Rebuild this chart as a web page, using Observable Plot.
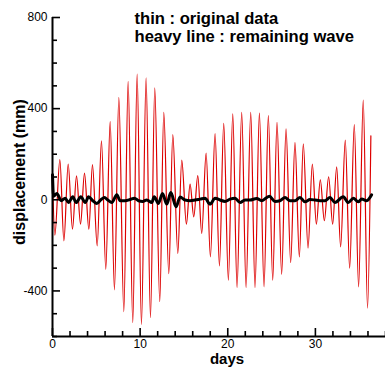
<!DOCTYPE html>
<html>
<head>
<meta charset="utf-8">
<script src="https://cdn.jsdelivr.net/npm/d3@7"></script>
<script src="https://cdn.jsdelivr.net/npm/@observablehq/plot@0.6"></script>
<style>
  html, body { margin: 0; padding: 0; background: white; }
</style>
</head>
<body>
<div id="chart"></div>
<script>
// Original data (thin red line): successive extremes
const origDays = [0.00,0.27,0.84,1.30,1.79,2.28,2.74,3.20,3.65,4.15,4.56,5.10,5.59,6.08,6.58,7.07,7.57,8.14,8.63,9.16,9.66,10.15,10.68,11.18,11.67,12.24,12.70,13.27,13.73,14.30,14.75,15.28,15.70,16.12,16.58,17.03,17.53,18.02,18.55,19.05,19.54,20.07,20.57,21.06,21.59,22.09,22.62,23.11,23.61,24.14,24.63,25.13,25.62,26.15,26.65,27.18,27.67,28.17,28.62,29.16,29.65,30.11,30.56,31.02,31.51,31.97,32.43,32.88,33.41,33.91,34.44,34.93,35.46,35.95,36.33];
const origValues = [100,-155,176,-180,157,-129,105,-107,117,-129,154,-202,259,-305,343,-395,450,-491,520,-539,552,-547,535,-517,491,-447,384,-324,286,-236,174,-107,69,-75,106,-148,205,-251,290,-290,335,-353,377,-385,384,-385,384,-385,380,-382,369,-353,340,-327,311,-276,252,-251,245,-212,157,-107,88,-92,101,-107,145,-207,262,-300,330,-382,438,-476,281];

// Remaining wave (heavy black line)
const remDays = [0.00,0.12,0.50,0.99,1.45,1.83,2.32,2.70,3.23,3.73,4.11,4.60,5.06,5.55,5.93,6.31,6.77,7.34,7.72,8.29,8.86,9.35,9.81,10.30,10.76,11.33,11.60,12.09,12.55,13.04,13.50,14.10,14.56,15.13,15.70,16.27,16.84,17.41,17.98,18.55,19.12,19.69,20.26,20.83,21.40,21.97,22.54,23.30,23.87,24.75,25.39,25.96,26.53,27.10,27.67,28.24,28.81,29.38,29.95,30.52,31.09,31.66,32.23,33.19,33.75,34.33,34.89,35.28,35.85,36.42];
const remValues = [110,15,28,-4,7,-12,13,-12,13,-12,13,-4,-16,1,10,-1,-12,22,-4,-4,1,7,-4,-7,-1,-12,13,-16,28,-19,32,-31,12,-1,-4,-1,3,7,-19,7,-1,-7,3,7,-12,-1,-1,6,-4,16,-7,-4,10,-4,-4,10,-9,1,-1,-4,-4,10,-12,13,-12,7,-9,3,-4,22];

// Axis ticks
const yMajor = [-400, 0, 400, 800];
const yMinor = [-600,-500,-300,-200,-100,100,200,300,500,600,700];
const xMajor = [0, 10, 20, 30];
const xMinor = [2,4,6,8,12,14,16,18,22,24,26,28,32,34,36,38];

const legendText = ["thin : original data\nheavy line : remaining wave"];
const yLabel = ["displacement (mm)"];
const xLabel = ["days"];

const orig = origDays.map((d, i) => ({day: d, value: origValues[i]}));
const rem = remDays.map((d, i) => ({day: d, value: remValues[i]}));

const chart = Plot.plot({
  width: 385,
  height: 369,
  marginLeft: 52,
  marginRight: 0,
  marginTop: 17,
  marginBottom: 33,
  x: {domain: [0, 38]},
  y: {domain: [-600, 800]},
  style: {fontFamily: "'Liberation Sans', Arial, sans-serif", fontSize: "12px", color: "#000", background: "white"},
  marks: [
    Plot.line(orig, {x: "day", y: "value", stroke: "#dd0000", strokeWidth: 1.2, curve: "monotone-x"}),
    Plot.line(rem, {x: "day", y: "value", stroke: "#000", strokeWidth: 3, curve: "monotone-x"}),
    Plot.ruleX([0], {stroke: "#000", strokeWidth: 2}),
    Plot.ruleY([-600], {stroke: "#000", strokeWidth: 2}),
    Plot.axisY({ticks: yMajor, tickSize: -8, tickPadding: 13, strokeWidth: 1.6, tickFormat: d => String(d), label: null, fill: "#000"}),
    Plot.axisY({ticks: yMinor, tickSize: -5, strokeWidth: 1.6, tickFormat: () => "", label: null}),
    Plot.axisX({ticks: xMajor, tickSize: -8, tickPadding: 11, strokeWidth: 1.6, tickFormat: d => String(d), label: null, fill: "#000"}),
    Plot.axisX({ticks: xMinor, tickSize: -5, strokeWidth: 1.6, tickFormat: () => "", label: null}),
    Plot.text(legendText, {frameAnchor: "top-left", textAnchor: "start", lineAnchor: "top", dx: 82, dy: -6, fontSize: 16.6, fontWeight: "bold", lineHeight: 1.07, fill: "#000"}),
    Plot.text(xLabel, {frameAnchor: "bottom", textAnchor: "middle", lineAnchor: "top", dx: 8, dy: 17, fontSize: 15, fontWeight: "bold", fill: "#000"}),
    Plot.text(yLabel, {frameAnchor: "left", textAnchor: "middle", lineAnchor: "top", rotate: -90, dx: -39, dy: -5, fontSize: 16, fontWeight: "bold", fill: "#000"})
  ]
});
document.getElementById("chart").appendChild(chart);
</script>
</body>
</html>
